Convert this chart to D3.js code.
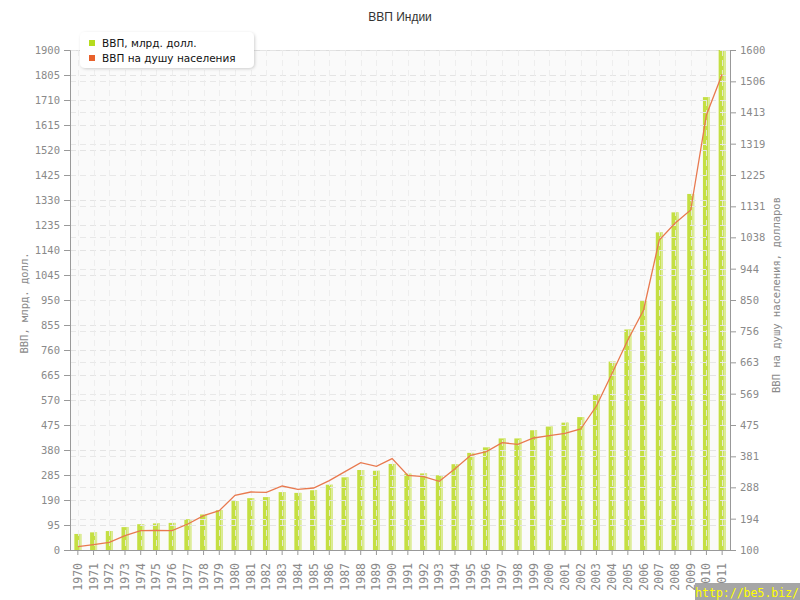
<!DOCTYPE html>
<html><head><meta charset="utf-8">
<script src="https://cdn.jsdelivr.net/npm/d3@7"></script>
<style>body{margin:0;background:#fff}</style>
</head><body>
<svg id="c" width="800" height="600"></svg>
<script>
const years = d3.range(1970, 2012).map(String);
const gdp = [61,67,72,87,98,101,103,117,135,151,186,197,201,220,217,227,248,276,304,301,327,
             290,291,284,326,369,390,424,424,455,469,484,505,592,716,838,946,1207,1283,1353,1721,1900];
const perCapita = [110,116,123,143,158,159,158,178,203,218,264,274,273,292,282,286,308,335,362,351,374,
                   324,320,306,344,384,395,422,417,436,443,450,463,532,630,730,820,1030,1080,1120,1405,1527];
const leftTicks = [0,95,190,285,380,475,570,665,760,855,950,1045,1140,1235,1330,1425,1520,1615,1710,1805,1900];
const rightTicks = [100,194,288,381,475,569,663,756,850,944,1038,1131,1225,1319,1413,1506,1600];
const title = "ВВП Индии";
const seriesNames = ["ВВП, млрд. долл.", "ВВП на душу населения"];
const leftTitle = "ВВП, млрд. долл.";
const rightTitle = "ВВП на душу населения, долларов";

const svg = d3.select("#c");
const L=70, R=730, T=50, B=550;
const x = d3.scaleBand().domain(years).range([L,R]);
const yL = d3.scaleLinear().domain([0,1900]).range([B,T]);
const yR = d3.scaleLinear().domain([100,1600]).range([B,T]);
const mono = "'DejaVu Sans Mono', monospace";
const grey = "#8a8a8a";

const defs = svg.append("defs");
const f = defs.append("filter").attr("id","sh").attr("x","-10%").attr("y","-20%").attr("width","130%").attr("height","160%");
f.append("feDropShadow").attr("dx",1).attr("dy",1).attr("stdDeviation",1.5).attr("flood-color","#000").attr("flood-opacity",0.18);

// background
svg.append("rect").attr("x",L).attr("y",T).attr("width",R-L).attr("height",B-T).attr("fill","#fafafa");
svg.append("line").attr("x1",L).attr("x2",R).attr("y1",T+0.5).attr("y2",T+0.5).attr("stroke","#dcdcdc");

// horizontal grids
const g = svg.append("g");
leftTicks.slice(1).forEach(v=>{
  g.append("line").attr("x1",L).attr("x2",R).attr("y1",Math.round(yL(v))+0.5).attr("y2",Math.round(yL(v))+0.5)
   .attr("stroke","#e4e4e4").attr("stroke-dasharray","6,4");
});
rightTicks.slice(1,-1).forEach(v=>{
  g.append("line").attr("x1",L).attr("x2",R).attr("y1",Math.round(yR(v))+0.5).attr("y2",Math.round(yR(v))+0.5)
   .attr("stroke","#e8e8e8").attr("stroke-dasharray","6,4");
});

// bars
const bw = 7;
const bars = svg.append("g");
years.forEach((yr,i)=>{
  const cx = x(yr)+x.bandwidth()/2;
  bars.append("rect").attr("x",cx-bw/2).attr("y",yL(gdp[i])).attr("width",bw).attr("height",B-yL(gdp[i])).attr("fill","#c4df42");
  bars.append("rect").attr("x",cx+bw/2-2).attr("y",yL(gdp[i])).attr("width",2).attr("height",B-yL(gdp[i])).attr("fill","#dcec98");
});

// vertical grids
years.forEach(yr=>{
  const cx = Math.round(x(yr)+x.bandwidth()/2)+0.5;
  g.append("line").attr("x1",cx).attr("x2",cx).attr("y1",T).attr("y2",B).attr("stroke","#ebebeb").attr("stroke-opacity",0.85).attr("stroke-dasharray","6,4");
});
svg.node().appendChild(g.node()); // grid above bars

// line
const line = d3.line().x((d,i)=>x(years[i])+x.bandwidth()/2).y(d=>yR(d));
svg.append("path").datum(perCapita).attr("d",line).attr("fill","none").attr("stroke","#e8794f").attr("stroke-width",1.3);

// axes
const axL = svg.append("g").attr("transform",`translate(${L},0)`)
  .call(d3.axisLeft(yL).tickValues(leftTicks).tickFormat(d=>String(d)).tickSize(6).tickPadding(4));
const axR = svg.append("g").attr("transform",`translate(${R},0)`)
  .call(d3.axisRight(yR).tickValues(rightTicks).tickFormat(d=>String(d)).tickSize(6).tickPadding(4));
const axB = svg.append("g").attr("transform",`translate(0,${B})`)
  .call(d3.axisBottom(x).tickSize(5).tickFormat(""));
[axL,axR,axB].forEach(a=>{
  a.selectAll("path").attr("stroke","#999");
  a.selectAll("line").attr("stroke","#999");
  a.selectAll("text").attr("fill",grey).style("font-family",mono).style("font-size","10.5px");
});
axB.select("path").attr("d",`M${L},0.5H${R}`);

// x labels
svg.append("g").selectAll("text").data(years).join("text")
  .attr("transform",d=>`translate(${x(d)+x.bandwidth()/2+4},563) rotate(-90)`)
  .attr("text-anchor","end").attr("fill",grey)
  .style("font-family",mono).style("font-size","11.5px").text(d=>d);

// axis titles
svg.append("text").attr("transform","translate(28,303) rotate(-90)").attr("text-anchor","middle")
  .attr("fill",grey).style("font-family",mono).style("font-size","10.5px").text(leftTitle);
svg.append("text").attr("transform","translate(780,295) rotate(-90)").attr("text-anchor","middle")
  .attr("fill",grey).style("font-family",mono).style("font-size","10.5px").text(rightTitle);

// title
svg.append("text").attr("x",400).attr("y",21).attr("text-anchor","middle").attr("fill","#333")
  .style("font-family","'Liberation Sans', Arial, sans-serif").style("font-size","12px").text(title);

// legend
const lg = svg.append("g");
lg.append("rect").attr("x",80).attr("y",32).attr("width",174).attr("height",36).attr("rx",5)
  .attr("fill","#fff").attr("filter","url(#sh)");
const lc = ["#b6dc1e","#e8612c"];
seriesNames.forEach((n,i)=>{
  lg.append("rect").attr("x",89).attr("y",40+i*15).attr("width",6).attr("height",6).attr("fill",lc[i]);
  lg.append("text").attr("x",102).attr("y",47+i*15).attr("fill","#111")
    .style("font-family","'DejaVu Sans', sans-serif").style("font-size","10.5px").text(n);
});

// watermark
svg.append("rect").attr("x",695).attr("y",583).attr("width",105).attr("height",17).attr("fill","#a6a6a6");
svg.append("text").attr("x",799).attr("y",597).attr("text-anchor","end").attr("fill","#ffff00")
  .style("font-family",mono).style("font-size","11.5px").text("http://be5.biz/");
</script>
</body></html>
